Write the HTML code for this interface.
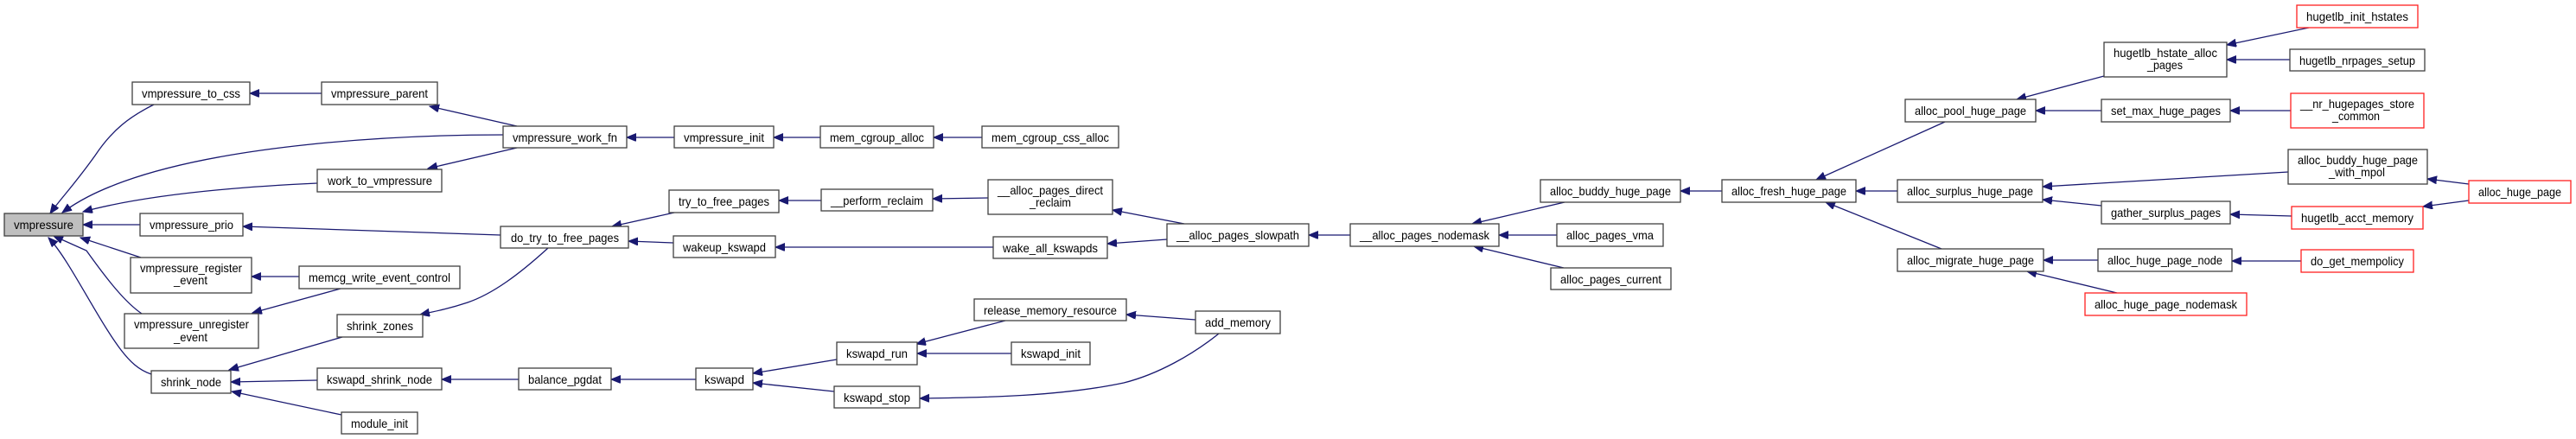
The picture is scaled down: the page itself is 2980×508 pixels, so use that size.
<!DOCTYPE html>
<html><head><meta charset="utf-8"><style>
html,body{margin:0;padding:0;background:#fff;}
svg{display:block;}
text{font-family:"Liberation Sans",sans-serif;font-size:14px;fill:#000;}
.b{fill:#fff;stroke:#404040;stroke-width:1.3;}
.r{fill:#fff;stroke:#ff2020;stroke-width:1.3;}
.g{fill:#bfbfbf;stroke:#404040;stroke-width:1.3;}
.e{fill:none;stroke:#191970;stroke-width:1.3;marker-end:url(#a);}
</style></head><body>
<svg width="2980" height="508" viewBox="0 0 2980 508" xmlns="http://www.w3.org/2000/svg">
<defs><marker id="a" markerUnits="userSpaceOnUse" markerWidth="12" markerHeight="10" refX="11" refY="4.5" orient="auto"><path d="M0,0 L11,4.5 L0,9 z" fill="#191970" stroke="#191970"/></marker></defs>

<!-- edges -->
<path class="e" d="M178,121 C150,135 130,150 110,180 C85,215 70,230 58,247"/>
<path class="e" d="M372,108 L289,108"/>
<path class="e" d="M598,146 L497,123"/>
<path class="e" d="M582,156 C450,156 260,168 143,210 C110,222 90,233 72,246"/>
<path class="e" d="M367,212 C280,216 170,225 96,245"/>
<path class="e" d="M598,171 L495,195"/>
<path class="e" d="M780,159 L725,159"/>
<path class="e" d="M949,159 L895,159"/>
<path class="e" d="M1136,159 L1080,159"/>
<path class="e" d="M162,260 L96,260"/>
<path class="e" d="M579,272 L281,262"/>
<path class="e" d="M163,298 L93,275"/>
<path class="e" d="M346,320 L291,320"/>
<path class="e" d="M164,363 C145,350 125,325 100,290 L62,273"/>
<path class="e" d="M394,334 L292,362"/>
<path class="e" d="M175,433 C160,428 150,418 140,405 C110,365 80,300 56,275"/>
<path class="e" d="M634,287 C600,318 570,340 541,350 C520,357 505,360 486,364"/>
<path class="e" d="M396,390 L265,428"/>
<path class="e" d="M367,440 L267,442"/>
<path class="e" d="M395,480 L268,453"/>
<path class="e" d="M600,439 L511,439"/>
<path class="e" d="M805,439 L707,439"/>
<path class="e" d="M780,246 L708,262"/>
<path class="e" d="M779,281 L727,279"/>
<path class="e" d="M950,232 L901,232"/>
<path class="e" d="M1143,229 L1079,230"/>
<path class="e" d="M1370,259 L1287,243"/>
<path class="e" d="M1149,286 L897,286"/>
<path class="e" d="M1350,277 L1281,282"/>
<path class="e" d="M1562,272 L1514,272"/>
<path class="e" d="M1810,234 L1703,259"/>
<path class="e" d="M1801,272 L1734,272"/>
<path class="e" d="M1809,310 L1705,285"/>
<path class="e" d="M1992,221 L1944,221"/>
<path class="e" d="M2250,141 L2101,208"/>
<path class="e" d="M2195,221 L2147,221"/>
<path class="e" d="M2246,288 L2112,234"/>
<path class="e" d="M1163,371 L1060,398"/>
<path class="e" d="M1170,409 L1061,409"/>
<path class="e" d="M1383,370 L1303,364"/>
<path class="e" d="M1410,386 C1380,410 1340,433 1300,443 C1220,460 1120,460 1064,461"/>
<path class="e" d="M968,416 L871,432"/>
<path class="e" d="M965,453 L871,443"/>
<path class="e" d="M2434,88 L2333,115"/>
<path class="e" d="M2431,128 L2355,128"/>
<path class="e" d="M2671,32 L2576,52"/>
<path class="e" d="M2649,69 L2576,69"/>
<path class="e" d="M2650,128 L2580,128"/>
<path class="e" d="M2647,199 L2363,216"/>
<path class="e" d="M2431,238 L2363,231"/>
<path class="e" d="M2651,250 L2580,248"/>
<path class="e" d="M2856,213 L2808,207"/>
<path class="e" d="M2856,232 L2803,239"/>
<path class="e" d="M2427,301 L2364,301"/>
<path class="e" d="M2662,302 L2582,302"/>
<path class="e" d="M2449,339 L2345,314"/>

<!-- nodes -->
<rect class="g" x="5" y="247" width="91" height="26"/><text x="16" y="265" textLength="69" lengthAdjust="spacingAndGlyphs">vmpressure</text>
<rect class="b" x="153" y="95" width="136" height="26"/><text x="164" y="113" textLength="114" lengthAdjust="spacingAndGlyphs">vmpressure_to_css</text>
<rect class="b" x="372" y="95" width="134" height="26"/><text x="383" y="113" textLength="112" lengthAdjust="spacingAndGlyphs">vmpressure_parent</text>
<rect class="b" x="582" y="146" width="143" height="25"/><text x="593" y="164" textLength="121" lengthAdjust="spacingAndGlyphs">vmpressure_work_fn</text>
<rect class="b" x="367" y="196" width="144" height="26"/><text x="379" y="214" textLength="121" lengthAdjust="spacingAndGlyphs">work_to_vmpressure</text>
<rect class="b" x="162" y="247" width="119" height="26"/><text x="173" y="265" textLength="97" lengthAdjust="spacingAndGlyphs">vmpressure_prio</text>
<rect class="b" x="579" y="262" width="148" height="25"/><text x="591" y="280" textLength="125" lengthAdjust="spacingAndGlyphs">do_try_to_free_pages</text>
<rect class="b" x="151" y="298" width="140" height="41"/><text x="162" y="315" textLength="118" lengthAdjust="spacingAndGlyphs">vmpressure_register</text><text x="201" y="329" textLength="39" lengthAdjust="spacingAndGlyphs">_event</text>
<rect class="b" x="346" y="308" width="186" height="26"/><text x="357" y="326" textLength="164" lengthAdjust="spacingAndGlyphs">memcg_write_event_control</text>
<rect class="b" x="144" y="363" width="155" height="40"/><text x="155" y="380" textLength="133" lengthAdjust="spacingAndGlyphs">vmpressure_unregister</text><text x="201" y="395" textLength="39" lengthAdjust="spacingAndGlyphs">_event</text>
<rect class="b" x="390" y="364" width="99" height="26"/><text x="401" y="382" textLength="77" lengthAdjust="spacingAndGlyphs">shrink_zones</text>
<rect class="b" x="175" y="429" width="92" height="26"/><text x="186" y="447" textLength="70" lengthAdjust="spacingAndGlyphs">shrink_node</text>
<rect class="b" x="367" y="426" width="144" height="25"/><text x="378" y="444" textLength="122" lengthAdjust="spacingAndGlyphs">kswapd_shrink_node</text>
<rect class="b" x="600" y="426" width="107" height="25"/><text x="611" y="444" textLength="85" lengthAdjust="spacingAndGlyphs">balance_pgdat</text>
<rect class="b" x="395" y="477" width="88" height="25"/><text x="406" y="495" textLength="66" lengthAdjust="spacingAndGlyphs">module_init</text>

<rect class="b" x="780" y="146" width="115" height="25"/><text x="791" y="164" textLength="93" lengthAdjust="spacingAndGlyphs">vmpressure_init</text>
<rect class="b" x="949" y="146" width="131" height="25"/><text x="960" y="164" textLength="109" lengthAdjust="spacingAndGlyphs">mem_cgroup_alloc</text>
<rect class="b" x="1136" y="146" width="158" height="25"/><text x="1147" y="164" textLength="136" lengthAdjust="spacingAndGlyphs">mem_cgroup_css_alloc</text>
<rect class="b" x="774" y="220" width="127" height="26"/><text x="785" y="238" textLength="105" lengthAdjust="spacingAndGlyphs">try_to_free_pages</text>
<rect class="b" x="950" y="219" width="129" height="25"/><text x="961" y="237" textLength="107" lengthAdjust="spacingAndGlyphs">__perform_reclaim</text>
<rect class="b" x="1143" y="208" width="144" height="40"/><text x="1154" y="225" textLength="122" lengthAdjust="spacingAndGlyphs">__alloc_pages_direct</text><text x="1191" y="239" textLength="48" lengthAdjust="spacingAndGlyphs">_reclaim</text>
<rect class="b" x="1350" y="259" width="164" height="26"/><text x="1361" y="277" textLength="142" lengthAdjust="spacingAndGlyphs">__alloc_pages_slowpath</text>
<rect class="b" x="779" y="273" width="118" height="25"/><text x="790" y="291" textLength="96" lengthAdjust="spacingAndGlyphs">wakeup_kswapd</text>
<rect class="b" x="1149" y="274" width="132" height="25"/><text x="1160" y="292" textLength="110" lengthAdjust="spacingAndGlyphs">wake_all_kswapds</text>
<rect class="b" x="1127" y="346" width="176" height="25"/><text x="1138" y="364" textLength="154" lengthAdjust="spacingAndGlyphs">release_memory_resource</text>
<rect class="b" x="1383" y="360" width="98" height="26"/><text x="1394" y="378" textLength="76" lengthAdjust="spacingAndGlyphs">add_memory</text>
<rect class="b" x="968" y="396" width="93" height="26"/><text x="979" y="414" textLength="71" lengthAdjust="spacingAndGlyphs">kswapd_run</text>
<rect class="b" x="1170" y="396" width="91" height="26"/><text x="1181" y="414" textLength="69" lengthAdjust="spacingAndGlyphs">kswapd_init</text>
<rect class="b" x="805" y="426" width="66" height="25"/><text x="815" y="444" textLength="46" lengthAdjust="spacingAndGlyphs">kswapd</text>
<rect class="b" x="965" y="447" width="99" height="25"/><text x="976" y="465" textLength="77" lengthAdjust="spacingAndGlyphs">kswapd_stop</text>

<rect class="b" x="1562" y="259" width="172" height="26"/><text x="1573" y="277" textLength="150" lengthAdjust="spacingAndGlyphs">__alloc_pages_nodemask</text>
<rect class="b" x="1782" y="208" width="162" height="26"/><text x="1793" y="226" textLength="140" lengthAdjust="spacingAndGlyphs">alloc_buddy_huge_page</text>
<rect class="b" x="1801" y="259" width="123" height="26"/><text x="1812" y="277" textLength="101" lengthAdjust="spacingAndGlyphs">alloc_pages_vma</text>
<rect class="b" x="1794" y="310" width="139" height="25"/><text x="1805" y="328" textLength="117" lengthAdjust="spacingAndGlyphs">alloc_pages_current</text>
<rect class="b" x="1992" y="208" width="155" height="26"/><text x="2003" y="226" textLength="133" lengthAdjust="spacingAndGlyphs">alloc_fresh_huge_page</text>
<rect class="b" x="2204" y="115" width="151" height="26"/><text x="2215" y="133" textLength="129" lengthAdjust="spacingAndGlyphs">alloc_pool_huge_page</text>
<rect class="b" x="2195" y="208" width="168" height="26"/><text x="2206" y="226" textLength="146" lengthAdjust="spacingAndGlyphs">alloc_surplus_huge_page</text>
<rect class="b" x="2195" y="288" width="169" height="26"/><text x="2206" y="306" textLength="147" lengthAdjust="spacingAndGlyphs">alloc_migrate_huge_page</text>

<rect class="b" x="2434" y="49" width="142" height="40"/><text x="2445" y="66" textLength="120" lengthAdjust="spacingAndGlyphs">hugetlb_hstate_alloc</text><text x="2484" y="80" textLength="41" lengthAdjust="spacingAndGlyphs">_pages</text>
<rect class="r" x="2657" y="6" width="140" height="26"/><text x="2668" y="24" textLength="118" lengthAdjust="spacingAndGlyphs">hugetlb_init_hstates</text>
<rect class="b" x="2649" y="57" width="156" height="25"/><text x="2660" y="75" textLength="134" lengthAdjust="spacingAndGlyphs">hugetlb_nrpages_setup</text>
<rect class="b" x="2431" y="115" width="149" height="26"/><text x="2442" y="133" textLength="127" lengthAdjust="spacingAndGlyphs">set_max_huge_pages</text>
<rect class="r" x="2650" y="108" width="154" height="40"/><text x="2661" y="125" textLength="132" lengthAdjust="spacingAndGlyphs">__nr_hugepages_store</text><text x="2698" y="139" textLength="55" lengthAdjust="spacingAndGlyphs">_common</text>
<rect class="b" x="2647" y="173" width="161" height="40"/><text x="2658" y="190" textLength="139" lengthAdjust="spacingAndGlyphs">alloc_buddy_huge_page</text><text x="2694" y="204" textLength="65" lengthAdjust="spacingAndGlyphs">_with_mpol</text>
<rect class="r" x="2856" y="209" width="118" height="26"/><text x="2867" y="227" textLength="96" lengthAdjust="spacingAndGlyphs">alloc_huge_page</text>
<rect class="b" x="2431" y="233" width="149" height="26"/><text x="2442" y="251" textLength="127" lengthAdjust="spacingAndGlyphs">gather_surplus_pages</text>
<rect class="r" x="2651" y="239" width="152" height="26"/><text x="2662" y="257" textLength="130" lengthAdjust="spacingAndGlyphs">hugetlb_acct_memory</text>
<rect class="b" x="2427" y="288" width="155" height="26"/><text x="2438" y="306" textLength="133" lengthAdjust="spacingAndGlyphs">alloc_huge_page_node</text>
<rect class="r" x="2662" y="289" width="130" height="26"/><text x="2673" y="307" textLength="108" lengthAdjust="spacingAndGlyphs">do_get_mempolicy</text>
<rect class="r" x="2412" y="339" width="187" height="26"/><text x="2423" y="357" textLength="165" lengthAdjust="spacingAndGlyphs">alloc_huge_page_nodemask</text>
</svg>
</body></html>
